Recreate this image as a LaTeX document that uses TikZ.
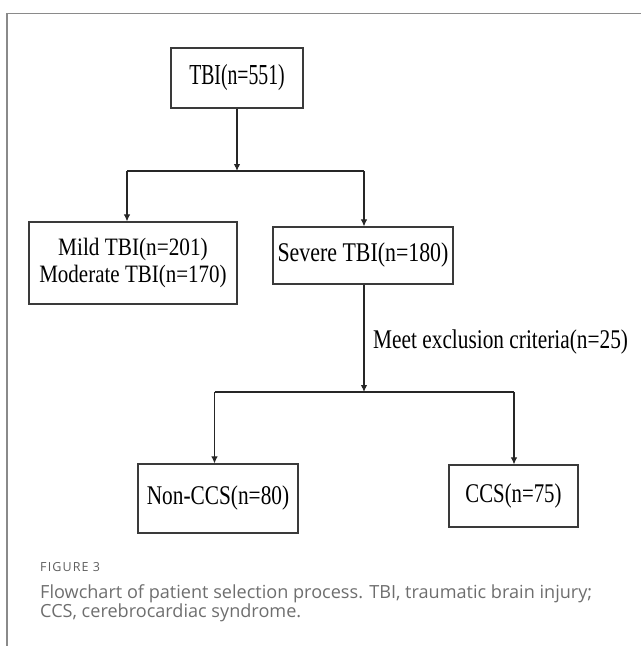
\documentclass[tikz,border=0pt]{standalone}
\usepackage{fontspec}
\setmainfont{Liberation Serif}
\newfontfamily\capfont{Open Sans}
\usetikzlibrary{arrows.meta}
\definecolor{framegray}{HTML}{8A8A8A}
\definecolor{capgray}{HTML}{6E6E6E}
\definecolor{boxgray}{HTML}{3A3A3A}
\tikzset{
  box/.style={draw=boxgray, line width=1.2pt, inner sep=0pt, align=center},
  conn/.style={draw=black!85, line width=1.1pt},
  arr/.style={conn, -{Latex[length=7pt,width=6.5pt]}},
  captxt/.style={inner sep=0pt, anchor=base west, text=capgray}
}
\begin{document}
\begin{tikzpicture}[x=1pt,y=-1pt]
\useasboundingbox (0,0) rectangle (641,646);
% frame
\draw[framegray, line width=1.4pt] (7,646) -- (7,13.6) -- (641,13.6);
% boxes
\node[box, minimum width=132pt, minimum height=60pt, font=\fontsize{29}{34}\selectfont] (tbi) at (237,78)
  {\scalebox{0.68}[1]{TBI(n=551)}};
\node[box, minimum width=208pt, minimum height=82pt, font=\fontsize{25}{27}\selectfont] (mild) at (133,263)
  {\scalebox{0.85}[1]{Mild TBI(n=201)}\\\scalebox{0.84}[1]{Moderate TBI(n=170)}};
\node[box, minimum width=180pt, minimum height=57pt, font=\fontsize{27}{30}\selectfont] (severe) at (363,255.5)
  {\scalebox{0.81}[1]{Severe TBI(n=180)}};
\node[box, minimum width=160pt, minimum height=69pt, font=\fontsize{27}{30}\selectfont] (noncss) at (218,498.5)
  {\scalebox{0.79}[1]{Non-CCS(n=80)}};
\node[box, minimum width=129pt, minimum height=62pt, font=\fontsize{27}{30}\selectfont] (ccs) at (513.5,496)
  {\scalebox{0.77}[1]{CCS(n=75)}};
\node[inner sep=0pt, anchor=west, font=\fontsize{27}{30}\selectfont] (excl) at (373,342)
  {\scalebox{0.79}[1]{Meet exclusion criteria(n=25)}};
% junctions
\coordinate (j1) at (237,171);
\coordinate (j1l) at (127,171);
\coordinate (j1r) at (364,171);
\coordinate (j2) at (364,392);
\coordinate (j2l) at (214.5,392);
\coordinate (j2r) at (514,392);
% connectors
\draw[arr] (tbi.south) -- (j1);
\draw[conn] (j1l) -- (j1r);
\draw[arr] (j1l) -- (j1l |- mild.north);
\draw[arr] (j1r) -- (j1r |- severe.north);
\draw[arr] (j2 |- severe.south) -- (j2);
\draw[conn] (j2l) -- (j2r);
\draw[arr] (j2l) -- (j2l |- noncss.north);
\draw[arr] (j2r) -- (j2r |- ccs.north);
% caption
\node[captxt, text=capgray!85!black, font=\capfont\fontsize{12.5}{15}\selectfont\addfontfeature{LetterSpace=9}] (fig) at (40,571) {FIGURE 3};
\node[captxt, font=\capfont\fontsize{18.1}{20}\selectfont] (cap1) at (40,598) {Flowchart of patient selection process. TBI, traumatic brain injury;};
\node[captxt, font=\capfont\fontsize{18.1}{20}\selectfont] (cap2) at (40,617) {CCS, cerebrocardiac syndrome.};
\end{tikzpicture}
\end{document}
